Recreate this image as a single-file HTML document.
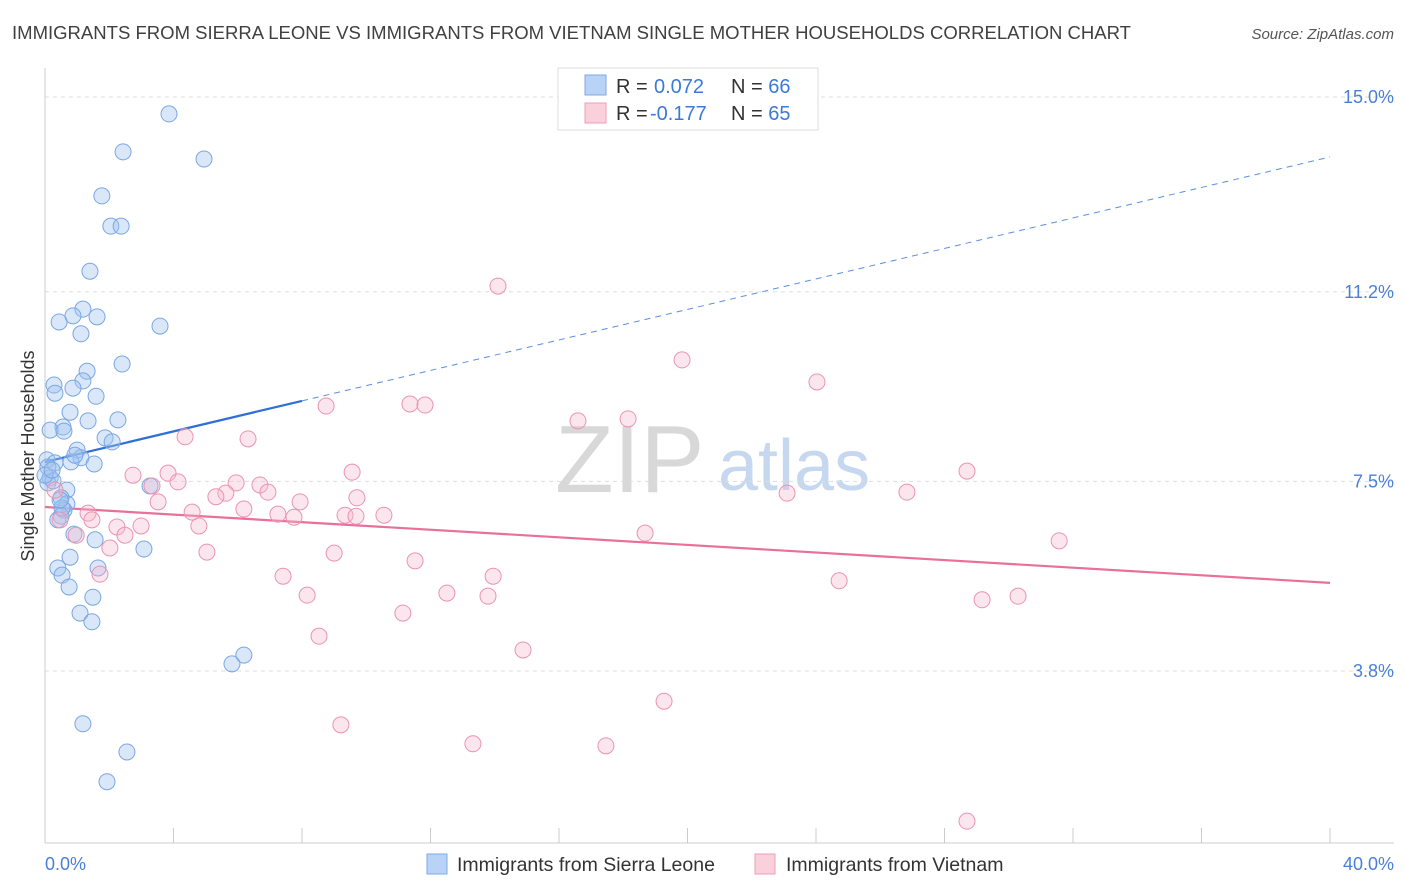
<!DOCTYPE html>
<html><head><meta charset="utf-8"><style>
body{margin:0;background:#fff;font-family:"Liberation Sans",sans-serif;}
#wrap{position:relative;width:1406px;height:892px;overflow:hidden;}
svg text{font-family:"Liberation Sans",sans-serif;}
</style></head><body>
<div id="wrap">
<svg id="chart" width="1406" height="892">
<text x="12" y="39" font-size="18" fill="#404040" textLength="1119" lengthAdjust="spacingAndGlyphs">IMMIGRANTS FROM SIERRA LEONE VS IMMIGRANTS FROM VIETNAM SINGLE MOTHER HOUSEHOLDS CORRELATION CHART</text>
<text x="1394" y="39" font-size="15" fill="#555" font-style="italic" text-anchor="end">Source: ZipAtlas.com</text>
<g>
<text x="555" y="492" font-size="96" fill="#d8d8d8" font-family="Liberation Serif, serif">ZIP</text>
<text x="718" y="490" font-size="72" fill="#c5d8f0">atlas</text>
</g>
<g id="grid"></g>
<g id="axes"></g>
<g id="lines"></g>
<g id="dots"></g>
<text transform="translate(34,456) rotate(-90)" font-size="18" fill="#333" text-anchor="middle">Single Mother Households</text>
<text x="45" y="870" font-size="18" fill="#4a7fd8">0.0%</text>
<text x="1394" y="870" font-size="18" fill="#4a7fd8" text-anchor="end">40.0%</text>
<g>
<rect x="558" y="68" width="260" height="62" fill="#fff" stroke="#ddd"/>
<rect x="585" y="75" width="21" height="20" fill="#b8d3f5" stroke="#7ea9e6"/>
<rect x="585" y="103" width="21" height="20" fill="#fbd0dd" stroke="#ee9cb8"/>
<text x="616" y="93" font-size="20" fill="#333">R = <tspan x="654" fill="#3a7ad8">0.072</tspan><tspan x="731">N = </tspan><tspan fill="#3a7ad8">66</tspan></text>
<text x="616" y="120" font-size="20" fill="#333">R = <tspan x="650" fill="#3a7ad8">-0.177</tspan><tspan x="731">N = </tspan><tspan fill="#3a7ad8">65</tspan></text>
</g>
<g>
<rect x="427" y="854" width="20" height="20" fill="#b8d3f5" stroke="#7ea9e6"/>
<text x="457" y="871" font-size="19.5" fill="#333">Immigrants from Sierra Leone</text>
<rect x="755" y="854" width="20" height="20" fill="#fbd0dd" stroke="#ee9cb8"/>
<text x="786" y="871" font-size="19.5" fill="#333">Immigrants from Vietnam</text>
</g>
</svg>
</div>
<script>
const yTicks=[15.0,11.2,7.5,3.8];
const yTickLabels=["15.0%","11.2%","7.5%","3.8%"];
const xTicks=[0,4,8,12,16,20,24,28,32,36,40];
const blueX=[3.86,2.43,4.95,1.77,2.05,2.37,1.40,0.44,1.18,0.87,1.62,3.58,1.12,2.40,1.31,1.18,0.28,0.87,0.31,1.59,0.78,2.27,1.34,0.56,0.16,0.59,1.87,2.09,1.00,1.12,0.06,0.81,1.53,0.31,0.09,0.16,0.09,0.25,3.27,0.68,0.50,0.68,0.59,0.50,0.90,1.56,3.08,0.78,0.40,1.65,0.53,0.75,1.49,1.09,1.46,6.19,5.82,1.18,2.55,1.93,0.40,0.00,0.53,0.93,0.22,0.47];
const blueY=[14.67,13.93,13.79,13.07,12.48,12.48,11.60,10.61,10.86,10.73,10.71,10.53,10.38,9.79,9.65,9.46,9.38,9.32,9.22,9.16,8.85,8.70,8.68,8.56,8.50,8.48,8.35,8.27,8.11,7.96,7.92,7.88,7.84,7.86,7.78,7.57,7.47,7.51,7.41,7.33,7.18,7.06,6.94,6.82,6.47,6.36,6.18,6.02,5.81,5.81,5.67,5.44,5.24,4.93,4.76,4.11,3.94,2.77,2.22,1.64,6.75,7.62,6.98,8.01,7.72,7.14];
const pinkX=[14.10,19.83,24.03,8.75,11.36,11.83,16.59,18.15,4.36,6.32,28.70,9.56,2.74,3.83,4.14,3.33,5.95,6.69,5.63,5.32,6.94,9.71,7.94,23.10,26.83,3.52,6.19,4.58,7.25,7.75,9.34,9.68,10.55,1.34,1.46,2.24,2.99,4.79,2.49,0.97,18.68,31.57,2.02,5.04,9.00,11.52,1.71,7.41,13.95,24.72,8.16,12.51,13.79,29.17,30.29,11.14,8.53,14.88,19.27,9.21,13.32,17.46,28.70,0.47,0.31];
const pinkY=[11.31,9.87,9.44,8.97,9.01,8.99,8.68,8.72,8.37,8.33,7.70,7.68,7.62,7.66,7.49,7.41,7.47,7.43,7.27,7.20,7.29,7.18,7.10,7.27,7.29,7.10,6.96,6.90,6.86,6.80,6.84,6.82,6.84,6.88,6.75,6.61,6.63,6.63,6.45,6.45,6.49,6.34,6.20,6.12,6.10,5.95,5.69,5.65,5.65,5.56,5.28,5.32,5.26,5.19,5.26,4.93,4.48,4.21,3.21,2.75,2.38,2.34,0.87,6.75,7.33];
const blueTrend=[7.88,13.83];
const blueSolidEnd=8;
const pinkTrend=[7.00,5.52];
const NS="http://www.w3.org/2000/svg";
function sx(v){return 45+v/40*1285;}
function sy(v){return 97+(15-v)*51.25;}
function mk(tag,attrs,parent){const e=document.createElementNS(NS,tag);for(const k in attrs)e.setAttribute(k,attrs[k]);document.getElementById(parent).appendChild(e);return e;}
yTicks.forEach((t,i)=>{
 const l=mk('line',{x1:45,x2:1394,y1:sy(t),y2:sy(t),stroke:'#ddd','stroke-dasharray':'4,4'},'grid');
 
 
 const tx=mk('text',{x:1394,y:sy(t)+6,'font-size':18,fill:'#4a7fd8','text-anchor':'end'},'grid');
 tx.textContent=yTickLabels[i];
 
 
});
const xa=mk('line',{x1:45,x2:1394,y1:843,y2:843,stroke:'#ccc'},'axes');


const ya=mk('line',{x1:45,x2:45,y1:68,y2:843,stroke:'#ccc'},'axes');


xTicks.forEach(t=>{
 const l=mk('line',{x1:sx(t),x2:sx(t),y1:828,y2:843,stroke:'#ccc'},'axes');
 
 
});
function ty(tr,x){return tr[0]+(tr[1]-tr[0])*x/40;}
const bs=mk('line',{x1:sx(0),y1:sy(ty(blueTrend,0)),x2:sx(blueSolidEnd),y2:sy(ty(blueTrend,blueSolidEnd)),stroke:'#2f6fd6','stroke-width':2.2},'lines');


const bd=mk('line',{x1:sx(blueSolidEnd),y1:sy(ty(blueTrend,blueSolidEnd)),x2:sx(40),y2:sy(ty(blueTrend,40)),stroke:'#5a8fe0','stroke-width':1,'stroke-dasharray':'6,5'},'lines');


const pl=mk('line',{x1:sx(0),y1:sy(pinkTrend[0]),x2:sx(40),y2:sy(pinkTrend[1]),stroke:'#e8709a','stroke-width':2.2},'lines');


blueX.forEach((x,i)=>{
 const c=mk('circle',{cx:sx(x),cy:sy(blueY[i]),r:8,fill:'rgba(160,196,240,0.4)',stroke:'#7aa7e3','stroke-width':1},'dots');
 
 
});
pinkX.forEach((x,i)=>{
 const c=mk('circle',{cx:sx(x),cy:sy(pinkY[i]),r:8,fill:'rgba(246,182,202,0.35)',stroke:'#eb93b3','stroke-width':1},'dots');
 
 
});
</script>
</body></html>
